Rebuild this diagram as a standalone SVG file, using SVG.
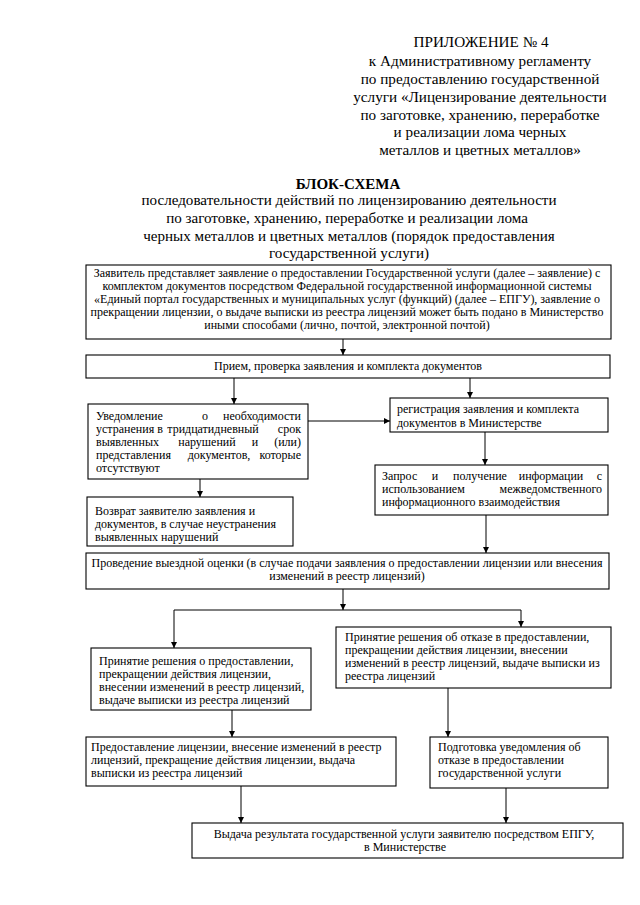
<svg xmlns="http://www.w3.org/2000/svg" width="640" height="905" viewBox="0 0 640 905">
<style>
  .hd { font-family: "Liberation Serif", "Times New Roman", serif; font-size: 15.2px; fill: #000; text-anchor: middle; }
  .sb { font-family: "Liberation Serif", "Times New Roman", serif; font-size: 15.1px; fill: #000; text-anchor: middle; }
  .ttl { font-family: "Liberation Serif", "Times New Roman", serif; font-size: 15px; font-weight: bold; fill: #000; text-anchor: middle; }
  .t { font-family: "Liberation Serif", "Times New Roman", serif; font-size: 12px; fill: #000; }
  .c { text-anchor: middle; }
  .m { text-anchor: middle; }
  .e { text-anchor: end; }
  .box { fill: #fff; stroke: #000; stroke-width: 1.1; }
  .ln { fill: none; stroke: #000; stroke-width: 1; }
  .ar { fill: none; stroke: #000; stroke-width: 1; marker-end: url(#arr); }
</style>
<defs>
  <marker id="arr" markerUnits="userSpaceOnUse" markerWidth="7" markerHeight="7" refX="6" refY="3" orient="auto">
    <path d="M0,0 L6,3 L0,6 z" fill="#000"/>
  </marker>
</defs>
<rect x="0" y="0" width="640" height="905" fill="#fff"/>

<g id="header">
  <text class="hd" x="481" y="47">ПРИЛОЖЕНИЕ № 4</text>
  <text class="hd" x="480" y="66">к Административному регламенту</text>
  <text class="hd" x="480" y="84">по предоставлению государственной</text>
  <text class="hd" x="480" y="102">услуги «Лицензирование деятельности</text>
  <text class="hd" x="480" y="120">по заготовке, хранению, переработке</text>
  <text class="hd" x="480" y="137">и реализации лома черных</text>
  <text class="hd" x="480" y="155">металлов и цветных металлов»</text>
</g>

<g id="title">
  <text class="ttl" x="348" y="189">БЛОК-СХЕМА</text>
  <text class="sb" x="349" y="205">последовательности действий по лицензированию деятельности</text>
  <text class="sb" x="347" y="223">по заготовке, хранению, переработке и реализации лома</text>
  <text class="sb" x="349" y="241">черных металлов и цветных металлов (порядок предоставления</text>
  <text class="sb" x="349" y="258">государственной услуги)</text>
</g>

<g id="connectors">
  <line class="ar" x1="343" y1="339" x2="343" y2="355"/>
  <line class="ar" x1="234" y1="378" x2="234" y2="404"/>
  <line class="ar" x1="470" y1="378" x2="470" y2="398"/>
  <line class="ar" x1="308" y1="421" x2="390" y2="421"/>
  <line class="ar" x1="200" y1="479" x2="200" y2="497"/>
  <line class="ar" x1="485" y1="432" x2="485" y2="465"/>
  <line class="ar" x1="486" y1="515" x2="486" y2="553"/>
  <line class="ar" x1="343" y1="589" x2="343" y2="610"/>
  <line class="ar" x1="174" y1="610" x2="174" y2="648"/>
  <line class="ln" x1="174" y1="610" x2="521" y2="610"/>
  <line class="ar" x1="521" y1="610" x2="521" y2="627"/>
  <line class="ar" x1="232" y1="710" x2="232" y2="737"/>
  <line class="ar" x1="448" y1="688" x2="448" y2="737"/>
  <line class="ar" x1="241" y1="786" x2="241" y2="823"/>
  <line class="ar" x1="506" y1="788" x2="506" y2="823"/>
</g>

<g id="n1">
  <rect class="box" x="86" y="265" width="525" height="74"/>
  <text class="t c" x="347" y="277">Заявитель представляет заявление о предоставлении Государственной услуги (далее – заявление) с</text>
  <text class="t c" x="347" y="290">комплектом документов посредством Федеральной государственной информационной системы</text>
  <text class="t c" x="347" y="303">«Единый портал государственных и муниципальных услуг (функций) (далее – ЕПГУ), заявление о</text>
  <text class="t c" x="347" y="316">прекращении лицензии, о выдаче выписки из реестра лицензий может быть подано в Министерство</text>
  <text class="t c" x="347" y="329">иными способами (лично, почтой, электронной почтой)</text>
</g>

<g id="n2">
  <rect class="box" x="86" y="355" width="524" height="23"/>
  <text class="t c" x="348" y="370">Прием, проверка заявления и комплекта документов</text>
</g>

<g id="n3">
  <rect class="box" x="88" y="404" width="220" height="75"/>
  <text class="t" x="96" y="420">Уведомление</text>
  <text class="t m" x="205" y="420">о</text>
  <text class="t e" x="301" y="420">необходимости</text>
  <text class="t" x="96" y="433">устранения</text>
  <text class="t m" x="160" y="433">в</text>
  <text class="t m" x="213" y="433">тридцатидневный</text>
  <text class="t e" x="301" y="433">срок</text>
  <text class="t" x="96" y="446">выявленных</text>
  <text class="t m" x="207" y="446">нарушений</text>
  <text class="t m" x="255" y="446">и</text>
  <text class="t e" x="301" y="446">(или)</text>
  <text class="t" x="96" y="459">представления</text>
  <text class="t m" x="219" y="459">документов,</text>
  <text class="t e" x="301" y="459">которые</text>
  <text class="t" x="96" y="472">отсутствуют</text>
</g>

<g id="n4">
  <rect class="box" x="390" y="398" width="218" height="34"/>
  <text class="t" x="397" y="413">регистрация заявления и комплекта</text>
  <text class="t" x="397" y="427">документов в Министерстве</text>
</g>

<g id="n5">
  <rect class="box" x="375" y="465" width="233" height="50"/>
  <text class="t" x="382" y="480">Запрос</text>
  <text class="t m" x="435" y="480">и</text>
  <text class="t m" x="480" y="480">получение</text>
  <text class="t m" x="551" y="480">информации</text>
  <text class="t e" x="602" y="480">с</text>
  <text class="t" x="382" y="493">использованием</text>
  <text class="t e" x="602" y="493">межведомственного</text>
  <text class="t" x="382" y="506">информационного взаимодействия</text>
</g>

<g id="n6">
  <rect class="box" x="87" y="497" width="206" height="49"/>
  <text class="t" x="95" y="515">Возврат заявителю заявления и</text>
  <text class="t" x="95" y="528">документов, в случае неустранения</text>
  <text class="t" x="95" y="541">выявленных нарушений</text>
</g>

<g id="n7">
  <rect class="box" x="86" y="553" width="523" height="36"/>
  <text class="t c" x="347" y="567">Проведение выездной оценки (в случае подачи заявления о предоставлении лицензии или внесения</text>
  <text class="t c" x="347" y="580">изменений в реестр лицензий)</text>
</g>

<g id="n8">
  <rect class="box" x="91" y="648" width="220" height="62"/>
  <text class="t" x="99" y="665">Принятие решения о предоставлении,</text>
  <text class="t" x="99" y="678">прекращении действия лицензии,</text>
  <text class="t" x="99" y="691">внесении изменений в реестр лицензий,</text>
  <text class="t" x="99" y="704">выдаче выписки из реестра лицензий</text>
</g>

<g id="n9">
  <rect class="box" x="336" y="627" width="275" height="61"/>
  <text class="t" x="345" y="641">Принятие решения об отказе в предоставлении,</text>
  <text class="t" x="345" y="654">прекращении действия лицензии, внесении</text>
  <text class="t" x="345" y="667">изменений в реестр лицензий, выдаче выписки из</text>
  <text class="t" x="345" y="680">реестра лицензий</text>
</g>

<g id="n10">
  <rect class="box" x="86" y="737" width="310" height="49"/>
  <text class="t" x="91" y="751">Предоставление лицензии, внесение изменений в реестр</text>
  <text class="t" x="91" y="764">лицензий, прекращение действия лицензии, выдача</text>
  <text class="t" x="91" y="777">выписки из реестра лицензий</text>
</g>

<g id="n11">
  <rect class="box" x="430" y="737" width="178" height="51"/>
  <text class="t" x="438" y="751">Подготовка уведомления об</text>
  <text class="t" x="438" y="764">отказе в предоставлении</text>
  <text class="t" x="438" y="777">государственной услуги</text>
</g>

<g id="n12">
  <rect class="box" x="192" y="823" width="431" height="35"/>
  <text class="t c" x="404" y="838">Выдача результата государственной услуги заявителю посредством ЕПГУ,</text>
  <text class="t c" x="405" y="851">в Министерстве</text>
</g>
</svg>
